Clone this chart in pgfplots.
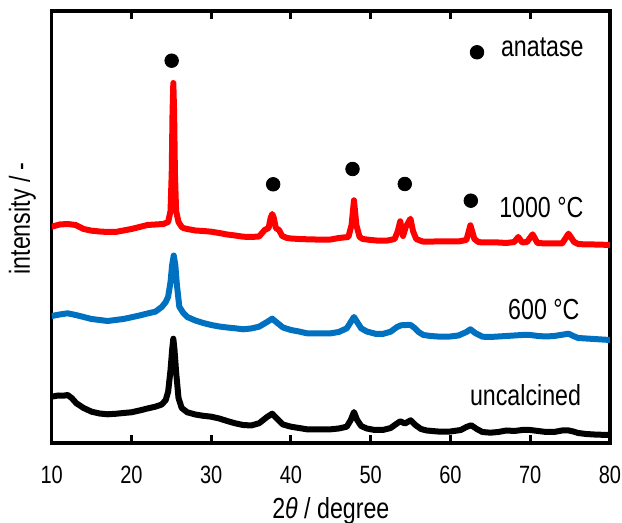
\documentclass[border=0pt]{standalone}
\usepackage{fontspec}
\setmainfont{Liberation Sans}
\usepackage{pgfplots}
\pgfplotsset{compat=1.18}

\definecolor{xrdred}{RGB}{255,0,0}
\definecolor{xrdblue}{RGB}{0,112,192}

% condensed text, as in the original figure
\newcommand{\nar}[1]{\scalebox{0.8}[1]{#1}}

% XRD patterns, y in offset plot units (arbitrary)
\pgfplotstableread{
x y
10 216.3
11 218.5
12 219
13 218
14 214
15 212.3
16 211.5
17 211
18 211
19 212.5
20 214
21 216
22 218
23 218.5
24 219
24.6 221
24.9 232
25.05 270
25.15 330
25.25 360
25.35 330
25.45 270
25.6 232
25.9 221
26.3 216
26.5 215
27 214
28 212.5
29 212
30 211.3
31 210
32 208.5
33 207.5
34 206.3
35 206
36 206.5
36.7 213
37.2 215
37.45 225
37.65 229
37.85 225
38.1 215
38.5 213
38.9 207
39.5 205
40 204.5
41 204
42 203.7
43 203.5
44 203.3
45 203.5
46 205
47.2 206
47.6 218
47.9 242.7
48.2 218
48.6 206
49 204
50 203
51 202.3
52 202.3
53 204
53.4 212
53.7 221.7
54.05 207
54.4 216
54.98 224.3
55.3 212
55.7 204
56.5 201.5
57 201.3
58 201.5
60 201.5
61 201.5
62 203
62.5 217.7
63 204
63.5 201
64 200.5
66 200.5
67 200
68 201
68.5 206
69 200.5
69.6 201
70.3 208.7
70.9 200
72 199.5
74 199.5
74.8 209.3
75.5 201
76 199
77 198.5
78 198.5
79 198.3
80 198
}\calcined

\pgfplotstableread{
x y
10 127
11 128.5
12 129.7
13 128
14 126
15 124
16 123
17 122
18 123
19 124
20 125.7
21 127.5
22 129.5
23 131.3
23.8 136
24.3 141
24.6 146.3
24.9 161
25.1 178
25.3 187.5
25.5 178
25.7 158
26.0 136.3
26.5 130
27 126
28 122.5
29 120
30 118
31 116.5
32 115.5
33 114.7
34 113.7
35 114.5
36 116.3
37 121
37.65 124.3
38.3 120
39 115.5
40 113
41 111.5
42 109.7
43 109.5
44 109.5
45 109.7
46 111
47 114.7
47.5 121
47.9 126
48.3 121
48.8 114.7
49.5 111.5
50.7 109
51.5 109
52.5 111.3
53.3 116
53.8 117.7
54.5 118
55.0 118
55.5 115
56.0 111
56.6 108
57.5 107
58.7 106.3
60 106.5
61 107.5
62 111
62.5 113.7
63.1 110
64 106.3
65 106
66 106.5
67 107
68 107.5
69 108
70 108
71 107
72 106.5
73 107
74.2 108.5
74.8 109.3
75.4 107
76 105
77 104.5
78 104
79 103.5
80 103
}\sixhundred

\pgfplotstableread{
x y
10 46.3
10.8 47.5
11.5 47.3
12 48
12.5 45
13.1 39.7
14 35
15 31.3
16 29.5
17 28.7
18 29.2
19 30
20 30.7
21 32.5
22 34.5
23 36.3
23.8 38.5
24.3 43
24.6 51.3
24.9 73
25.1 93
25.25 104.3
25.4 93
25.6 71
25.9 45
26.3 35
27 30.7
28 28.5
29 27.2
30 26.3
31 24.5
32 22
33 19.7
34 18
35 17.5
36 19.7
37 26
37.65 29.3
38.3 24
39 18.5
40 16.3
41 15
42 13.7
43 13.5
44 13.5
45 13.7
46 14.5
47 16.3
47.5 23
47.9 31
48.3 23
48.8 17
49.5 14.5
50.5 13
51.5 13
52.5 15
53.2 19
53.7 21.7
54.3 19.5
55.0 22.7
55.6 18
56.3 14
57 12.5
58.7 11.3
60 11.5
61.3 13
62 16
62.6 17.7
63.3 14
64 11
65 10.3
66 11
67 12.5
68 12
69 13
70 13
71 12
72 11
73 11
74 12.5
74.7 12.7
75.4 11.5
76 10
77 9
78 8.5
79 8.2
80 8
}\uncalcined

\begin{document}
\begin{tikzpicture}
\begin{axis}[
    scale only axis,
    width=279.15pt,
    height=216pt,
    xmin=10, xmax=80,
    ymin=0, ymax=432,
    xtick={10,20,...,80},
    ytick=\empty,
    tick align=inside,
    xtick pos=both,
    major tick length=3.5pt,
    axis line style={black, line width=1.5pt},
    tick style={black, line width=1.5pt},
    axis background/.style={draw=black, line width=1.8pt},
    xticklabel={\nar{\pgfmathprintnumber[assume math mode=true]{\tick}}},
    tick label style={font=\fontsize{12.5}{14}\selectfont},
    xticklabel style={anchor=base, yshift=-20.5pt},
    label style={font=\fontsize{14.5}{16}\selectfont},
    xlabel={\nar{2{\itshape θ} / degree}},
    ylabel={\nar{intensity / -}},
    xlabel style={at={(axis description cs:0.5,0)}, anchor=base, yshift=-37.65pt},
    ylabel style={at={(axis description cs:0,0.52)}, anchor=center, yshift=14.6pt},
]
% inward tick marks on bottom and top edges
\pgfplotsinvokeforeach{20,30,40,50,60,70}{
    \addplot[black, line width=1.5pt, forget plot] coordinates {(#1,0) (#1,8)};
    \addplot[black, line width=1.5pt, forget plot] coordinates {(#1,424) (#1,432)};
}

\addplot[xrdred, line width=3pt, line join=round] table {\calcined};
\addplot[xrdblue, line width=3pt, line join=round] table {\sixhundred};
\addplot[black, line width=3pt, line join=round] table {\uncalcined};

% anatase peak markers
\addplot[only marks, mark=*, mark size=3.4pt, black] coordinates {
    (25.04,382.3) (37.77,258.7) (47.72,274) (54.27,259) (62.55,242.3) (63.33,390.7)};

\node[anchor=base west, font=\fontsize{14.5}{16}\selectfont] at (axis cs:65.46,386.3) {\nar{anatase}};
\node[anchor=base east, font=\fontsize{14.5}{16}\selectfont] at (axis cs:77.55,225.7) {\nar{1000 °C}};
\node[anchor=base east, font=\fontsize{14.5}{16}\selectfont] at (axis cs:77.05,123) {\nar{600 °C}};
\node[anchor=base east, font=\fontsize{14.5}{16}\selectfont] at (axis cs:77.25,37.3) {\nar{uncalcined}};
\end{axis}
\pgfresetboundingbox
\path[use as bounding box] (-25.85pt,-40pt) rectangle (285.15pt,221.5pt);
\end{tikzpicture}
\end{document}
